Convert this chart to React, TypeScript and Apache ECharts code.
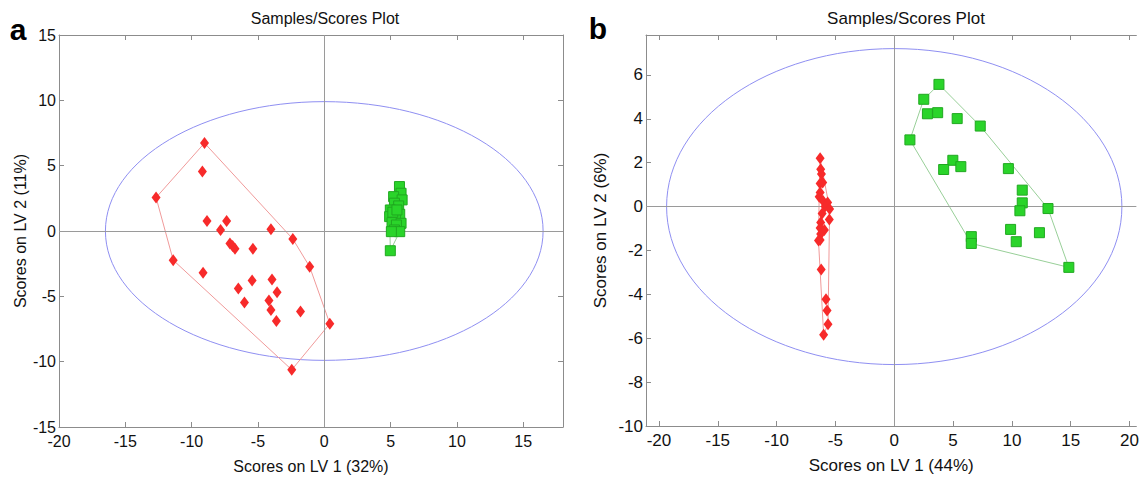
import React, { useEffect, useRef } from "react";
import * as echarts from "echarts";

// Panel a data (LV1, LV2)
const redA: number[][] = [
  [-9.03, 6.73], [-9.19, 4.55], [-12.68, 2.56], [-8.84, 0.77], [-7.36, 0.77],
  [-7.82, 0.08], [-4.02, 0.13], [-2.37, -0.61], [-7.11, -0.95], [-6.91, -1.15],
  [-6.73, -1.36], [-5.38, -1.36], [-11.39, -2.23], [-1.10, -2.74], [-9.14, -3.2],
  [-5.44, -3.79], [-3.94, -3.71], [-3.56, -4.68], [-6.48, -4.40], [-4.17, -5.32],
  [-6.02, -5.47], [-4.02, -6.04], [-1.79, -6.17], [-3.61, -6.88], [0.42, -7.09],
  [-2.45, -10.62],
];
const hullRedA = [0, 7, 13, 24, 25, 12, 2, 0];

const greenA: number[][] = [
  [5.67, 3.40], [5.79, 2.89], [5.23, 2.63], [5.87, 2.38], [5.29, 2.13],
  [5.61, 1.92], [4.98, 1.61], [5.69, 1.28], [4.93, 1.10], [5.36, 0.97],
  [5.11, 0.64], [5.79, 0.59], [5.44, 0.46], [5.29, 0.08], [5.69, -0.05],
  [4.98, -1.51], [5.17, 1.44], [5.48, 1.61], [5.06, -0.05],
];
const hullGreenA = [0, 1, 3, 11, 14, 15, 8, 6, 2, 0];

// Panel b data
const redB: number[][] = [
  [-6.30, 2.20], [-6.25, 1.70], [-6.19, 1.48], [-6.30, 1.05], [-6.08, 1.10],
  [-6.30, 0.64], [-6.38, 0.45], [-6.05, 0.26], [-5.66, 0.19], [-5.88, 0.00],
  [-5.49, -0.11], [-6.13, -0.31], [-5.52, -0.59], [-6.25, -0.72], [-6.30, -0.98],
  [-5.94, -1.07], [-6.25, -1.25], [-6.30, -1.52], [-6.44, -1.55], [-6.21, -2.87],
  [-5.80, -4.22], [-5.71, -4.74], [-5.63, -5.36], [-6.00, -5.84],
];
const hullRedB = [0, 10, 22, 23, 18, 6, 0];

const greenB: number[][] = [
  [3.80, 5.57], [2.51, 4.89], [2.82, 4.23], [3.69, 4.28], [5.35, 4.01],
  [7.31, 3.67], [1.33, 3.04], [4.98, 2.11], [4.20, 1.69], [5.66, 1.82],
  [9.70, 1.73], [10.88, 0.75], [10.88, 0.17], [10.68, -0.19], [13.07, -0.09],
  [9.89, -1.04], [12.34, -1.19], [6.55, -1.37], [6.55, -1.68], [10.37, -1.60],
  [14.84, -2.77],
];
const hullGreenB = [0, 5, 14, 20, 18, 6, 1, 0];

// Confidence ellipses: [centerX, centerY, semiAxisX, semiAxisY]
const ellipseA = [[0, 0, 16.5, 9.9]];
const ellipseB = [[0, 0, 19.35, 7.2]];

const xTicksA = [-20, -15, -10, -5, 0, 5, 10, 15];
const yTicksA = [-15, -10, -5, 0, 5, 10, 15];
const xTicksB = [-20, -15, -10, -5, 0, 5, 10, 15, 20];
const yTicksB = [-10, -8, -6, -4, -2, 0, 2, 4, 6];

const FONT = '"Liberation Sans", Arial, sans-serif';
const AXIS_COLOR = "#8c8c8c";

function axis(
  kind: "x" | "y",
  gridIndex: number,
  position: string,
  min: number,
  max: number,
  ticks: number[],
  showLabels: boolean,
  fontSize: number,
  name?: string,
  nameGap?: number,
  showLine: boolean = true
) {
  return {
    type: "value",
    gridIndex,
    position,
    min,
    max,
    name: name || "",
    nameLocation: "middle",
    nameGap: nameGap || 0,
    nameRotate: kind === "y" ? 90 : 0,
    nameTextStyle: { color: "#111", fontSize, fontFamily: FONT },
    axisLine: { show: showLine, onZero: false, lineStyle: { color: AXIS_COLOR, width: 1 } },
    axisTick: {
      show: showLine,
      inside: true,
      length: 5,
      customValues: ticks,
      lineStyle: { color: AXIS_COLOR, width: 1 },
    },
    axisLabel: {
      show: showLabels,
      customValues: ticks,
      color: "#111",
      fontSize,
      fontFamily: FONT,
      margin: kind === "y" ? 3 : 6,
    },
    splitLine: { show: false },
  };
}

function ellipseSeries(data: number[][], xi: number, yi: number) {
  return {
    type: "custom",
    xAxisIndex: xi,
    yAxisIndex: yi,
    data,
    z: 1,
    silent: true,
    renderItem: (_p: any, api: any) => {
      const c = api.coord([api.value(0), api.value(1)]);
      const s = api.size([api.value(2), api.value(3)]);
      return {
        type: "ellipse",
        shape: { cx: c[0], cy: c[1], rx: s[0], ry: s[1] },
        style: { fill: "none", stroke: "#8f8ff2", lineWidth: 1 },
      };
    },
  };
}

function hullSeries(pts: number[][], idx: number[], color: string, xi: number, yi: number, zero: boolean) {
  const s: any = {
    type: "line",
    xAxisIndex: xi,
    yAxisIndex: yi,
    data: idx.map((i) => pts[i]),
    symbol: "none",
    z: 3,
    silent: true,
    lineStyle: { color, width: 1 },
  };
  if (zero) {
    s.markLine = {
      silent: true,
      symbol: ["none", "none"],
      label: { show: false },
      lineStyle: { color: "#9a9a9a", width: 1, type: "solid" },
      data: [{ xAxis: 0 }, { yAxis: 0 }],
    };
  }
  return s;
}

function redScatter(pts: number[][], xi: number, yi: number) {
  return {
    type: "scatter",
    xAxisIndex: xi,
    yAxisIndex: yi,
    data: pts,
    symbol: "diamond",
    symbolSize: [9, 12],
    z: 5,
    itemStyle: { color: "#f72a2a", opacity: 1 },
  };
}

function greenScatter(pts: number[][], xi: number, yi: number) {
  return {
    type: "scatter",
    xAxisIndex: xi,
    yAxisIndex: yi,
    data: pts,
    symbol: "rect",
    symbolSize: 10,
    z: 5,
    itemStyle: { color: "#2ad42a", borderColor: "#20a820", borderWidth: 1, opacity: 1 },
  };
}

export default function App() {
  const ref = useRef<HTMLDivElement>(null);

  useEffect(() => {
    if (!ref.current) return;
    const chart = echarts.init(ref.current, undefined, { renderer: "svg" });
    const option: any = {
      animation: false,
      backgroundColor: "#ffffff",
      grid: [
        { left: 59, top: 35, width: 504, height: 392 },
        { left: 646, top: 35, width: 496, height: 392 },
      ],
      xAxis: [
        axis("x", 0, "bottom", -20, 18, xTicksA, true, 16, "Scores on LV 1 (32%)", 31),
        axis("x", 0, "top", -20, 18, xTicksA, false, 16),
        axis("x", 1, "bottom", -21.1, 20.58, xTicksB, true, 17, "Scores on LV 1 (44%)", 31),
        axis("x", 1, "top", -21.1, 20.58, xTicksB, false, 17),
      ],
      yAxis: [
        axis("y", 0, "left", -15, 15, yTicksA, true, 16, "Scores on LV 2 (11%)", 31),
        axis("y", 0, "right", -15, 15, yTicksA, false, 16),
        axis("y", 1, "left", -10, 7.82, yTicksB, true, 17, "Scores on LV 2 (6%)", 37),
        axis("y", 1, "right", -10, 7.82, yTicksB, false, 17, undefined, undefined, false),
      ],
      graphic: [
        {
          type: "text",
          x: 325,
          y: 18,
          style: { text: "Samples/Scores Plot", fill: "#111", font: `16px ${FONT}`, align: "center", verticalAlign: "middle" },
        },
        {
          type: "text",
          x: 906,
          y: 18,
          style: { text: "Samples/Scores Plot", fill: "#111", font: `17px ${FONT}`, align: "center", verticalAlign: "middle" },
        },
        {
          type: "text",
          x: 18,
          y: 29,
          style: { text: "a", fill: "#000", font: `bold 30px ${FONT}`, align: "center", verticalAlign: "middle" },
        },
        {
          type: "text",
          x: 598,
          y: 28,
          style: { text: "b", fill: "#000", font: `bold 30px ${FONT}`, align: "center", verticalAlign: "middle" },
        },
      ],
      series: [
        ellipseSeries(ellipseA, 0, 0),
        hullSeries(redA, hullRedA, "#f09a9a", 0, 0, true),
        hullSeries(greenA, hullGreenA, "#98cf98", 0, 0, false),
        redScatter(redA, 0, 0),
        greenScatter(greenA, 0, 0),
        ellipseSeries(ellipseB, 2, 2),
        hullSeries(redB, hullRedB, "#f09a9a", 2, 2, true),
        hullSeries(greenB, hullGreenB, "#98cf98", 2, 2, false),
        redScatter(redB, 2, 2),
        greenScatter(greenB, 2, 2),
      ],
    };
    chart.setOption(option);
    return () => chart.dispose();
  }, []);

  return (
    <div
      ref={ref}
      style={{ position: "fixed", left: 0, top: 0, width: 1142, height: 479, background: "#fff" }}
    />
  );
}
